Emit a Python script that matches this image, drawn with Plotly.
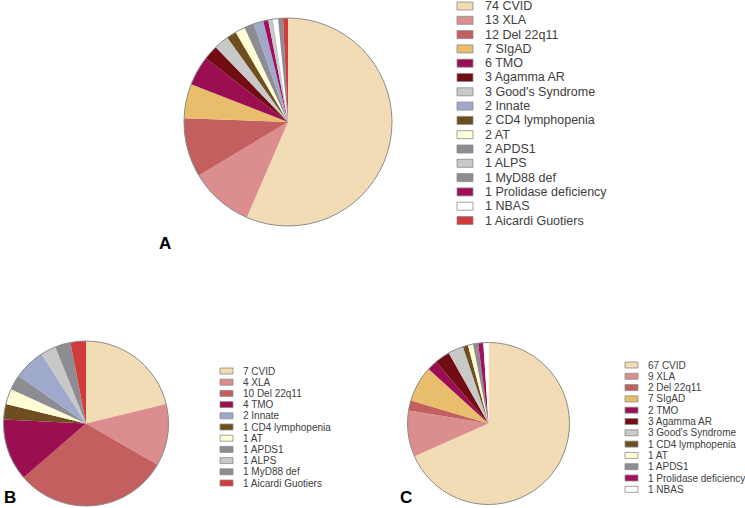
import plotly.graph_objects as go

W, H = 745, 508

# ---- Data ------------------------------------------------------------------
# legend order per panel; slice order follows the drawing in the reference
a_labels = ["CVID", "XLA", "Del 22q11", "SIgAD", "TMO", "Agamma AR",
            "Good's Syndrome", "Innate", "CD4 lymphopenia", "AT", "APDS1",
            "ALPS", "MyD88 def", "Prolidase deficiency", "NBAS",
            "Aicardi Guotiers"]
a_values = [74, 13, 12, 7, 6, 3, 3, 2, 2, 2, 2, 1, 1, 1, 1, 1]
a_slice_order = ["CVID", "XLA", "Del 22q11", "SIgAD", "TMO", "Agamma AR",
                 "Good's Syndrome", "CD4 lymphopenia", "AT", "APDS1", "Innate",
                 "Prolidase deficiency", "ALPS", "NBAS", "MyD88 def",
                 "Aicardi Guotiers"]

b_labels = ["CVID", "XLA", "Del 22q11", "TMO", "Innate", "CD4 lymphopenia",
            "AT", "APDS1", "ALPS", "MyD88 def", "Aicardi Guotiers"]
b_values = [7, 4, 10, 4, 2, 1, 1, 1, 1, 1, 1]
b_slice_order = ["CVID", "XLA", "Del 22q11", "TMO", "CD4 lymphopenia", "AT",
                 "APDS1", "Innate", "ALPS", "MyD88 def", "Aicardi Guotiers"]

c_labels = ["CVID", "XLA", "Del 22q11", "SIgAD", "TMO", "Agamma AR",
            "Good's Syndrome", "CD4 lymphopenia", "AT", "APDS1",
            "Prolidase deficiency", "NBAS"]
c_values = [67, 9, 2, 7, 2, 3, 3, 1, 1, 1, 1, 1]
c_slice_order = c_labels

COLORS = {
    "CVID": "#f2dcb6",
    "XLA": "#dc8d8e",
    "Del 22q11": "#c45f5f",
    "SIgAD": "#e8bd6b",
    "TMO": "#9c0e52",
    "Agamma AR": "#720e13",
    "Good's Syndrome": "#c9c9c9",
    "Innate": "#9ea9cb",
    "CD4 lymphopenia": "#6e4e1f",
    "AT": "#fffdd6",
    "APDS1": "#8e8c93",
    "ALPS": "#c8c8c8",
    "MyD88 def": "#8e8c93",
    "Prolidase deficiency": "#a0105a",
    "NBAS": "#ffffff",
    "Aicardi Guotiers": "#d03b3b",
}


def px_x(x):
    return x / W


def px_y(y):
    return 1 - y / H


fig = go.Figure()
shapes, annotations = [], []

# pie geometry (centre x, centre y, radius) in pixels, letter position, legend
panels = [
    ("A", a_labels, a_values, a_slice_order, (288, 122, 104), (157, 243),
     dict(x=457, y0=6, dy=14.3, sw=16, sh=8, tx=483, fs=12.5)),
    ("B", b_labels, b_values, b_slice_order, (86, 423.5, 82.5), (2, 497),
     dict(x=220, y0=371, dy=11.2, sw=13, sh=6, tx=241, fs=10)),
    ("C", c_labels, c_values, c_slice_order, (488.5, 423.5, 81), (398, 497),
     dict(x=625, y0=365, dy=11.3, sw=13, sh=6, tx=646, fs=10)),
]

for name, labels, values, order, (cx, cy, r), (lx, ly), leg in panels:
    vals = dict(zip(labels, values))
    fig.add_trace(go.Pie(
        labels=order,
        values=[vals[k] for k in order],
        marker=dict(colors=[COLORS[k] for k in order], line=dict(width=0)),
        sort=False, direction="clockwise", rotation=0,
        textinfo="none", hoverinfo="label+value", showlegend=False,
        domain=dict(x=[px_x(cx - r), px_x(cx + r)],
                    y=[px_y(cy + r), px_y(cy - r)]),
        name=name,
    ))
    # thin outline round the pie
    shapes.append(dict(type="circle", xref="paper", yref="paper",
                       x0=px_x(cx - r), x1=px_x(cx + r),
                       y0=px_y(cy + r), y1=px_y(cy - r),
                       line=dict(color="#8c8c8c", width=1)))
    # panel letter
    annotations.append(dict(x=px_x(lx), y=px_y(ly), xref="paper", yref="paper",
                            text=f"<b>{name}</b>", showarrow=False,
                            xanchor="left", yanchor="middle",
                            font=dict(family="Liberation Sans, Arial", size=17,
                                      color="black")))
    # hand-built legend (tight spacing like the source figure)
    for i, lab in enumerate(labels):
        yc = leg["y0"] + i * leg["dy"]
        shapes.append(dict(type="rect", xref="paper", yref="paper",
                           x0=px_x(leg["x"]), x1=px_x(leg["x"] + leg["sw"]),
                           y0=px_y(yc + leg["sh"] / 2), y1=px_y(yc - leg["sh"] / 2),
                           fillcolor=COLORS[lab],
                           line=dict(color="#8a8a8a", width=0.8)))
        annotations.append(dict(x=px_x(leg["tx"]), y=px_y(yc),
                                xref="paper", yref="paper",
                                text=f"{vals[lab]} {lab}", showarrow=False,
                                xanchor="left", yanchor="middle",
                                font=dict(family="Liberation Sans, Arial",
                                          size=leg["fs"], color="#404040")))

fig.update_layout(
    width=W, height=H,
    margin=dict(l=0, r=0, t=0, b=0),
    paper_bgcolor="white", plot_bgcolor="white",
    shapes=shapes, annotations=annotations,
    showlegend=False,
)

# the page's default 8px body margin would push the figure off the window
fig.write_html("out.html", config={"displayModeBar": False},
               post_script="document.body.style.margin='0';")
